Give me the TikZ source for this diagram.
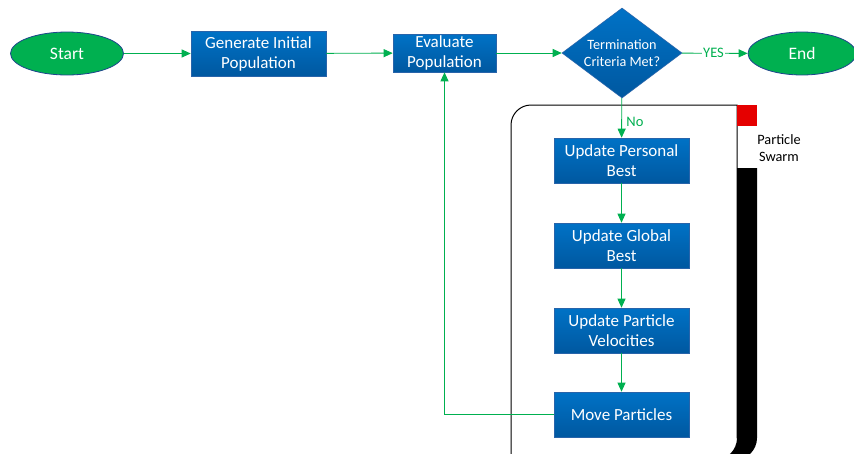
\documentclass[tikz,border=0pt]{standalone}
\usepackage{fontspec}
\setmainfont{Carlito}
\usetikzlibrary{shapes.geometric,arrows.meta}
\definecolor{fgreen}{RGB}{0,176,80}
\definecolor{bluetop}{RGB}{0,114,198}
\definecolor{bluebot}{RGB}{0,88,160}
\definecolor{blueline}{RGB}{40,100,170}
\definecolor{ovalline}{RGB}{30,70,140}
\tikzset{
  procbox/.style={rectangle, draw=blueline, line width=0.6pt, top color=bluetop, bottom color=bluebot,
    text=white, font=\fontsize{17}{20}\selectfont, align=center, inner sep=0pt},
  termoval/.style={ellipse, draw=ovalline, line width=0.8pt, fill=fgreen, text=white,
    font=\fontsize{17.5}{20}\selectfont, inner sep=0pt},
  decbox/.style={diamond, draw=blueline, line width=0.6pt, top color=bluetop, bottom color=bluebot,
    text=white, font=\fontsize{14.2}{17}\selectfont, align=center, inner sep=0pt, aspect=1.33},
  flow/.style={draw=fgreen, line width=0.9pt, -{Triangle[length=9pt,width=8pt]}},
  flowlabel/.style={text=fgreen, font=\fontsize{14.5}{16}\selectfont}
}
\begin{document}
\begin{tikzpicture}[x=1pt,y=-1pt]
\useasboundingbox (0,0) rectangle (854,453);
\fill[white] (0,0) rectangle (854,453);
\begin{scope}
\clip (0,0) rectangle (854,453);
% swimlane
\draw[line width=1pt] (511,470) -- (511,125) .. controls (511,114) and (520,105) .. (531,105) -- (737,105) -- (737,438);
\fill[red!90!black] (737,105) rectangle (757,126);
\fill[black] (737,168) -- (757,168) -- (757,438) .. controls (757,450) and (747,460) .. (735,460) -- (715,460) .. controls (727,460) and (737,450) .. (737,438) -- cycle;
\node[font=\fontsize{14.3}{17}\selectfont, align=center, text=black] (lane) at (779,148) {Particle\\Swarm};

% nodes
\node[termoval, minimum width=113pt, minimum height=43pt] (start) at (67,53.5) {Start};
\node[procbox, minimum width=135pt, minimum height=45pt] (gen) at (258.5,53.5) {Generate Initial\\Population};
\node[procbox, minimum width=103pt, minimum height=38pt] (eval) at (444.5,53) {Evaluate\\Population};
\node[decbox, minimum width=120pt, minimum height=90pt] (term) at (622,53) {Termination\\Criteria Met?};
\node[termoval, minimum width=108pt, minimum height=43pt] (end) at (802,53.5) {End};
\node[procbox, minimum width=135pt, minimum height=45pt] (upb) at (621.5,160.5) {Update Personal\\Best};
\node[procbox, minimum width=135pt, minimum height=45pt] (ugb) at (621.5,245.5) {Update Global\\Best};
\node[procbox, minimum width=135pt, minimum height=45pt] (upv) at (621.5,330.5) {Update Particle\\Velocities};
\node[procbox, minimum width=135pt, minimum height=45pt] (mp) at (621.5,414.5) {Move Particles};
\coordinate (bend) at (444.5,414.5);

% connectors
\draw[flow] (start) -- (gen);
\draw[flow] (gen) -- (eval);
\draw[flow] (eval) -- (term);
\draw[flow] (term) -- node[flowlabel, fill=white, inner sep=1pt, pos=0.48] {YES} (end);
\draw[flow] (term) -- node[flowlabel, right, pos=0.6, xshift=1pt] {No} (upb);
\draw[flow] (upb) -- (ugb);
\draw[flow] (ugb) -- (upv);
\draw[flow] (upv) -- (mp);
\draw[flow] (mp.west) -- (bend) -- (eval.south);
\end{scope}
\end{tikzpicture}
\end{document}
